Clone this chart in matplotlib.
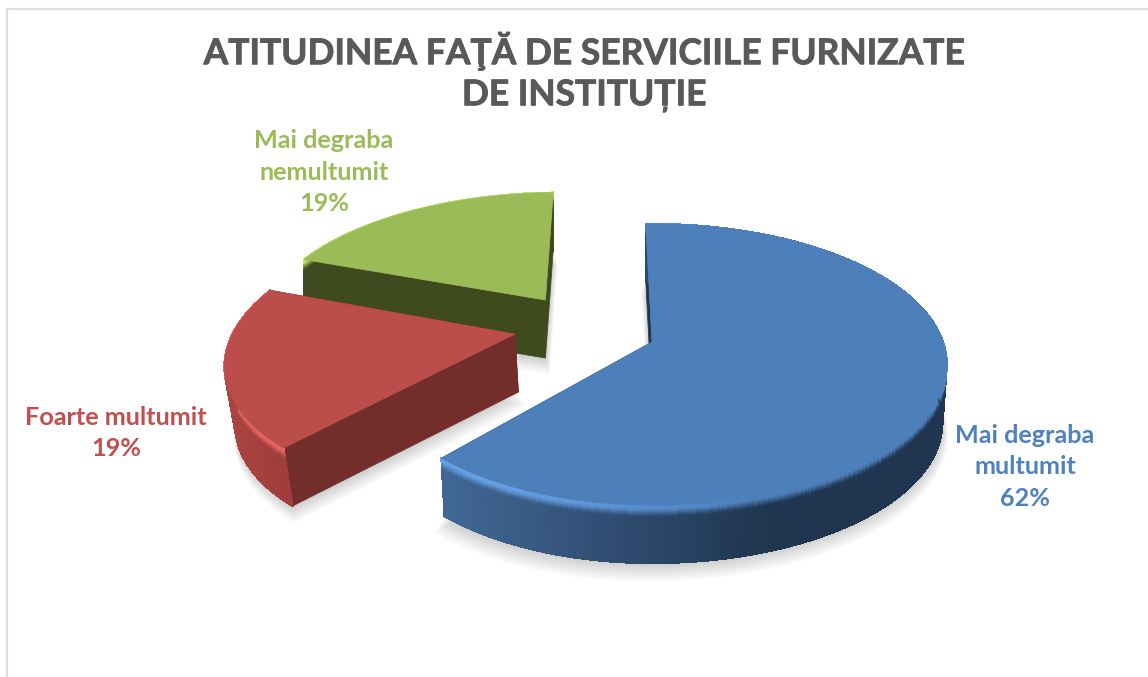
import numpy as np
import matplotlib
matplotlib.use("Agg")
import matplotlib.pyplot as plt
import matplotlib.patheffects as pe
from matplotlib.collections import LineCollection, PolyCollection
from matplotlib.colors import to_rgb
from matplotlib.patches import Polygon

plt.rcParams['font.family'] = ['Lato', 'Noto Sans', 'DejaVu Sans']

# date
title = "ATITUDINEA FAŢĂ DE SERVICIILE FURNIZATE\nDE INSTITUȚIE"
labels = ["Mai degraba\nmultumit", "Foarte multumit", "Mai degraba\nnemultumit"]
values = [62, 19, 19]

# aspect
top_colors = ["#4d7fba", "#bb4e4b", "#9bbb59"]
side_colors = ["#1f3550", "#732e2c", "#3f4a1e"]
text_colors = ["#4f81bd", "#c0504d", "#9bbb59"]
explode = [(0.0, 0.0), (-0.485, -0.058), (-0.385, -0.322)]
left_scale = [0.958, 0.98, 1.0]
shrink = [0.985, 0.975, 1.0]
label_pos = [(1025, 467), (116, 433), (324, 172)]

# proiectie: cercul unitate din planul feliei ajunge pe ecran in pixeli
cx, cy, a, b, k = 652, 342, 291, 137, 0.16
depth = 58
start_angle = -1.5


def project(u, v, left=1.0):
    w = 1 - k * v
    return cx + a * u * np.where(u < 0, left, 1.0) / w, cy + b * v / w


def lower(x, y, s):
    return cx + (x - cx) * s, y + depth


def rim(t0, t1, off, n=220):
    t = np.radians(np.linspace(t0, t1, n))
    return np.sin(t) + off[0], -np.cos(t) + off[1]


def wall_color(i, x):
    if i == 0:
        f = np.clip((x - 441) / 330, 0, 1)
        return np.array(to_rgb("#426897")) * (1 - f) + np.array(to_rgb(side_colors[0])) * f
    if i == 1:
        f = np.clip((x - 222) / 75, 0, 1)
        return np.array(to_rgb("#ab4441")) * (1 - f) + np.array(to_rgb("#9c3c39")) * f
    return np.array(to_rgb(side_colors[i]))


fig = plt.figure(figsize=(11.48, 6.77), dpi=100)
ax = fig.add_axes([0, 0, 1, 1])
ax.set_xlim(0, 1148)
ax.set_ylim(677, 0)
ax.axis('off')

# chenarul
ax.plot([7, 7, 1148], [677, 8.5, 8.5], color="#dedede", lw=1.6, solid_joinstyle='miter')

angles = start_angle + np.cumsum([0] + values) * 3.6
wedges = []
for i in range(len(values)):
    u, v = rim(angles[i], angles[i + 1], explode[i])
    x, y = project(u, v, left_scale[i])
    ax_x, ax_y = project(np.array(explode[i][0]), np.array(explode[i][1]), left_scale[i])
    wedges.append((x, y, float(ax_x), float(ax_y)))

# umbre
for i, (x, y, ax_x, ax_y) in enumerate(wedges):
    bx, by = lower(np.append(x, ax_x), np.append(y, ax_y), shrink[i])
    mx, my = bx.mean(), by.mean()
    for s in range(1, 17):
        sc = 1 + s * 0.0022
        pts = np.column_stack([mx + (bx - mx) * sc, my + (by - my) * sc + s * 0.9])
        ax.add_patch(Polygon(pts, closed=True, fc="black", ec="none", alpha=0.012, zorder=1))

# feliile, din spate spre fata
for i in [2, 1, 0]:
    x, y, ax_x, ax_y = wedges[i]
    z = 10 + (2 - i) * 10
    lx, ly = lower(x, y, shrink[i])
    lax, lay = lower(ax_x, ax_y, shrink[i])

    # peretii drepti
    for j in [0, -1]:
        pts = [(x[j], y[j]), (ax_x, ax_y), (lax, lay), (lx[j], ly[j])]
        ax.add_patch(Polygon(pts, closed=True, fc=side_colors[i], ec=side_colors[i], lw=0.5, zorder=z))

    # peretele curbat, cu gradient si muchie rotunjita
    rows = np.concatenate([np.linspace(0, 14, 15), [depth]])
    quads, cols, segs, seg_cols = [], [], [], []
    top = np.array(to_rgb(top_colors[i]))
    for n in range(len(x) - 1):
        base = wall_color(i, x[n])
        glow = np.clip((760 - x[n]) / 260, 0, 1) if i == 0 else 1.0
        hi = top + (np.minimum(top * 1.18 + 0.04, 1) - top) * glow
        for r0, r1 in zip(rows[:-1], rows[1:]):
            f0, f1 = r0 / depth, r1 / depth
            xa = x[n] + (lx[n] - x[n]) * f0
            xb = x[n + 1] + (lx[n + 1] - x[n + 1]) * f0
            xc = x[n + 1] + (lx[n + 1] - x[n + 1]) * f1
            xd = x[n] + (lx[n] - x[n]) * f1
            quads.append([(xa, y[n] + r0), (xb, y[n + 1] + r0), (xc, y[n + 1] + r1), (xd, y[n] + r1)])
            mix = np.clip((r0 - 3) / 10, 0, 1)
            mix = mix * mix * (3 - 2 * mix)
            cols.append(hi * (1 - mix) + base * mix)
        segs.append([(lx[n], ly[n]), (lx[n + 1], ly[n + 1])])
        seg_cols.append(base)
    ax.add_collection(PolyCollection(quads, facecolors=cols, edgecolors=cols, linewidths=0.8,
                                     antialiaseds=False, zorder=z + 1))
    ax.add_collection(LineCollection(segs, colors=seg_cols, linewidths=1.0, zorder=z + 1))

    # fata de sus
    pts = np.column_stack([np.append(x, ax_x), np.append(y, ax_y)])
    ax.add_patch(Polygon(pts, closed=True, fc=top_colors[i], ec=top_colors[i], lw=0.5, zorder=z + 2))

ax.text(584, 72, title, ha='center', va='center', fontsize=25.5, fontweight='bold',
        color="#595959", linespacing=1.35, zorder=50,
        path_effects=[pe.withStroke(linewidth=0.6, foreground="#595959")])

for i in range(len(values)):
    ax.text(label_pos[i][0], label_pos[i][1], f"{labels[i]}\n{values[i]}%", ha='center', va='center',
            fontsize=18.2, fontweight='bold', color=text_colors[i], linespacing=1.45, zorder=50)

fig.savefig("out.png", dpi=100)
